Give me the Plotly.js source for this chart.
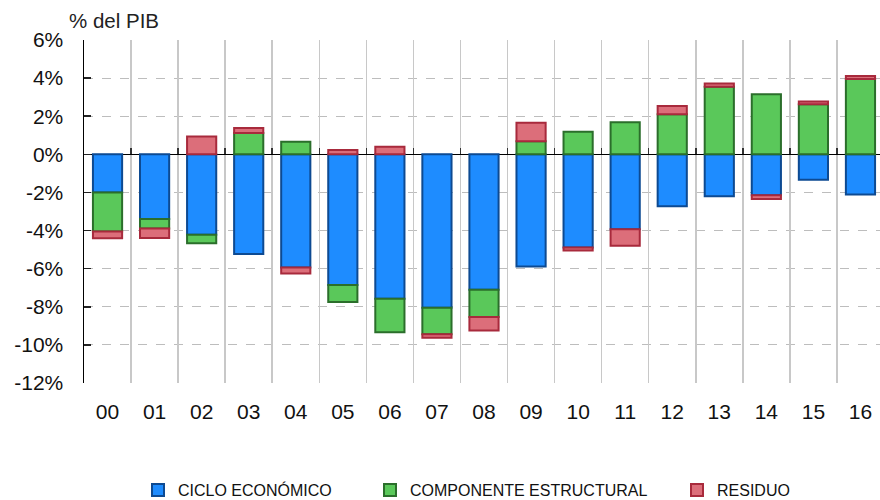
<!DOCTYPE html>
<html>
<head>
<meta charset="utf-8">
<script src="https://cdn.plot.ly/plotly-3.0.1.min.js"></script>
<style>html,body{margin:0;padding:0;background:#fff}#chart{width:880px;height:500px}</style>
</head>
<body>
<div id="chart"></div>
<script>
const categories = ["00","01","02","03","04","05","06","07","08","09","10","11","12","13","14","15","16"];
const ciclo = [-2.00, -3.40, -4.22, -5.23, -5.94, -6.86, -7.58, -8.05, -7.11, -5.88, -4.89, -3.93, -2.72, -2.20, -2.15, -1.33, -2.11];
const estructural = [-2.05, -0.49, -0.45, 1.12, 0.66, -0.89, -1.76, -1.39, -1.43, 0.69, 1.18, 1.68, 2.10, 3.55, 3.15, 2.63, 3.95];
const residuo = [-0.35, -0.50, 0.94, 0.26, -0.31, 0.23, 0.40, -0.19, -0.70, 0.97, -0.16, -0.87, 0.43, 0.17, -0.19, 0.14, 0.16];
const seriesNames = ["CICLO ECONÓMICO", "COMPONENTE ESTRUCTURAL", "RESIDUO"];
const yTicks = [-12, -10, -8, -6, -4, -2, 0, 2, 4, 6];
const yTitle = "% del PIB";

const fills = ["#1e8cff", "#5ac85a", "#dc6e7a"];
const lines = ["#0d4a92", "#2b6e2b", "#a82a3c"];
const legendFont = {family: "'Liberation Sans', Arial, sans-serif", size: 16, color: "#111"};

const vals = [ciclo, estructural, residuo];
const legendIds = ["legend", "legend2", "legend3"];
const traces = vals.map((v, i) => ({
  type: "bar",
  name: seriesNames[i],
  x: categories,
  y: v,
  width: 0.62,
  marker: {color: fills[i], line: {color: lines[i], width: 2}},
  legend: legendIds[i],
  hoverinfo: "skip"
}));
// helper trace to activate the boundary axis (ticks on zero line + vertical grid)
const boundaries = categories.slice(1).map((_, i) => i + 0.5);
traces.push({type: "scatter", x: [0], y: [0], xaxis: "x2", mode: "markers",
  marker: {opacity: 0}, showlegend: false, hoverinfo: "skip"});

const xr = [-0.5, 16.415];
const mkLegend = (xpx) => ({
  xref: "container", yref: "container", x: xpx / 880, y: 1 - 490 / 500,
  xanchor: "left", yanchor: "middle", orientation: "h",
  font: legendFont, bgcolor: "rgba(0,0,0,0)", borderwidth: 0, itemwidth: 30
});

const layout = {
  width: 880, height: 500,
  margin: {l: 84, r: 0, t: 40, b: 117, pad: 0},
  paper_bgcolor: "#fff", plot_bgcolor: "#fff",
  barmode: "relative",
  font: {family: "'Liberation Sans', Arial, sans-serif", color: "#111"},
  xaxis: {
    type: "category", range: xr, showgrid: false, zeroline: false, showline: false,
    ticks: "", tickfont: {size: 21, color: "#111"}, ticklabelstandoff: 14, fixedrange: true
  },
  xaxis2: {
    type: "linear", overlaying: "x", anchor: "free", position: 12 / 18, side: "top",
    range: xr, tickmode: "array", tickvals: boundaries, showticklabels: false,
    ticks: "outside", ticklen: 6, tickwidth: 1.5, tickcolor: "#333",
    showgrid: true, gridcolor: "#c8c8c8", gridwidth: 1.5, zeroline: false, showline: false
  },
  yaxis: {
    range: [-12, 6], tickmode: "array", tickvals: yTicks,
    ticktext: yTicks.map(v => v + "%"),
    tickfont: {size: 21, color: "#111"},
    ticks: "inside", ticklen: 7, tickwidth: 1.5, tickcolor: "#222",
    showline: true, linecolor: "#000", linewidth: 1.5,
    showgrid: true, gridcolor: "#bdbdbd", gridwidth: 1, griddash: "dash",
    zeroline: true, zerolinecolor: "#000", zerolinewidth: 1.5,
    ticklabelstandoff: 15
  },
  legend: mkLegend(138),
  legend2: mkLegend(370),
  legend3: mkLegend(677),
  annotations: [{
    text: yTitle, xref: "paper", yref: "paper", x: 67 / 796 - 84 / 796, xanchor: "left",
    y: 1, yanchor: "bottom", yshift: 6, showarrow: false,
    font: {size: 20.5, color: "#222"}
  }]
};

Plotly.newPlot("chart", traces, layout, {displayModeBar: false, staticPlot: true});
</script>
</body>
</html>
